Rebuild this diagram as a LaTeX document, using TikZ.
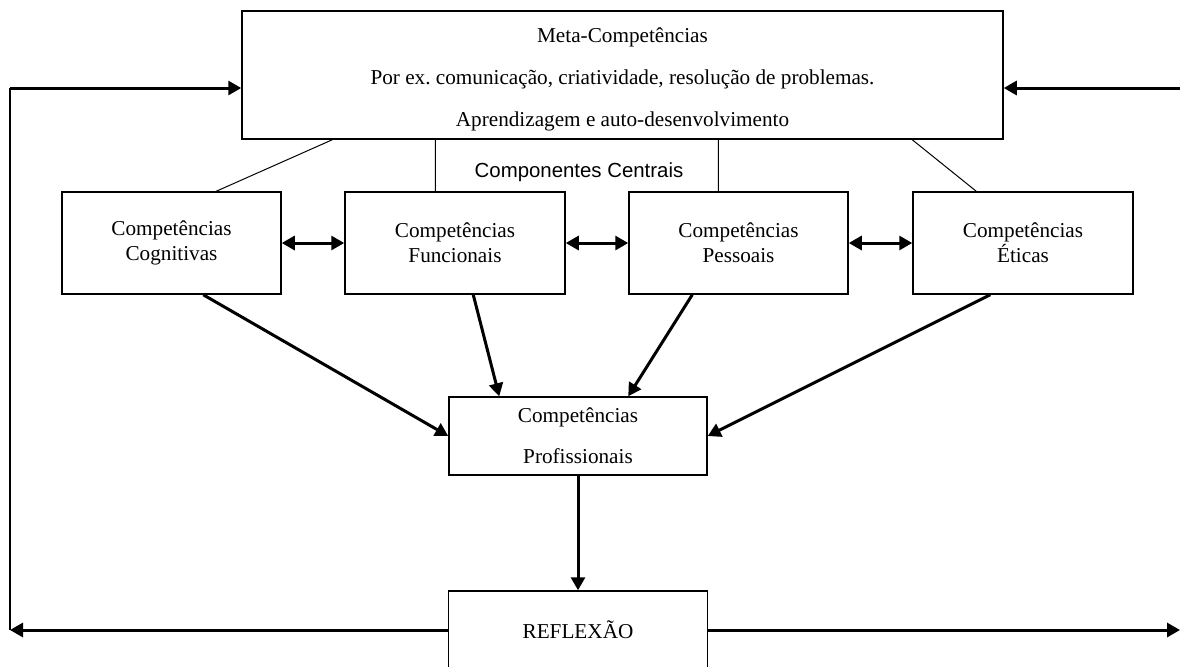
\documentclass[tikz,border=0pt]{standalone}
\usepackage{fontspec}
\setmainfont{Liberation Serif}
\newfontfamily\arialfont{Liberation Sans}
\usetikzlibrary{calc,arrows.meta}

\tikzset{
	caixa/.style = {draw, line width = 0.75pt, inner sep = 0pt, align = center},
	seta/.style = {line width = 1.5pt, -{Triangle[length = 6.5pt, width = 7pt]}},
	setadupla/.style = {line width = 1.5pt, {Triangle[length = 6.5pt, width = 7pt]}-{Triangle[length = 6.5pt, width = 7pt]}},
	fina/.style = {line width = 0.5pt}
}

\begin{document}
\begin{tikzpicture}[x = 0.5pt, y = -0.5pt]%competencias
	\useasboundingbox (0,0) rectangle (1181,666);
	\node[caixa, minimum width = 380.5pt, minimum height = 64pt, font = \fontsize{10.6}{21}\selectfont] (meta) at (622.5,75)
	{\rule{0pt}{12pt}Meta-Competências\\Por ex.\ comunicação, criatividade, resolução de problemas.\\Aprendizagem e auto-desenvolvimento};
	\node[caixa, minimum width = 109.5pt, minimum height = 51pt, font = \fontsize{10.6}{12.5}\selectfont] (cog) at (171.5,243) {Competências\\Cognitivas};
	\node[caixa, minimum width = 110pt, minimum height = 51pt, font = \fontsize{10.6}{12.5}\selectfont] (fun) at (455,243) {Competências\\Funcionais};
	\node[caixa, minimum width = 109.5pt, minimum height = 51pt, font = \fontsize{10.6}{12.5}\selectfont] (pes) at (738.5,243) {Competências\\Pessoais};
	\node[caixa, minimum width = 110pt, minimum height = 51pt, font = \fontsize{10.6}{12.5}\selectfont] (eti) at (1023,243) {Competências\\Éticas};
	\node[caixa, minimum width = 129pt, minimum height = 39pt, font = \fontsize{10.6}{20.5}\selectfont] (prof) at (578,436) {Competências\\Profissionais};
	\node[caixa, minimum width = 129.5pt, minimum height = 39pt, font = \fontsize{10.6}{12.5}\selectfont] (refl) at (578,630) {REFLEXÃO};
	\node[font = \arialfont\fontsize{10.2}{12}\selectfont] (cc) at (579,172) {Componentes Centrais};
	\draw[fina]
	($(meta.south west)+(91,0)$) -- ($(cog.north west)+(155,0)$)
	($(meta.south west)+(194,0)$) coordinate (m2) -- (m2 |- fun.north)
	($(meta.south west)+(477,0)$) coordinate (m3) -- (m3 |- pes.north)
	($(meta.south west)+(671,0)$) -- ($(eti.north west)+(64,0)$);
	\draw[setadupla] (cog.east) -- (fun.west);
	\draw[setadupla] (fun.east) -- (pes.west);
	\draw[setadupla] (pes.east) -- (eti.west);
	\draw[seta] ($(cog.south west)+(142,0)$) -- (prof.west);
	\draw[seta] ($(fun.south west)+(129,0)$) -- ($(prof.north west)+(51,0)$);
	\draw[seta] ($(pes.south west)+(64,0)$) -- ($(prof.north west)+(180,0)$);
	\draw[seta] ($(eti.south west)+(78,0)$) -- (prof.east);
	\draw[seta] (prof.south) -- (refl.north);
	% laco de retorno
	\coordinate (esqC) at (10,88);
	\coordinate (esqB) at (10,630);
	\coordinate (dirC) at (1180,88);
	\coordinate (dirB) at (1180,630);
	\draw[seta] (refl.west) -- (esqB);
	\draw[line width = 1.25pt] (esqB) -- (esqC);
	\draw[seta] (esqC) -- (esqC -| meta.west);
	\draw[seta] (dirC) -- (dirC -| meta.east);
	\draw[seta] (refl.east) -- (dirB);
\end{tikzpicture}
\end{document}
